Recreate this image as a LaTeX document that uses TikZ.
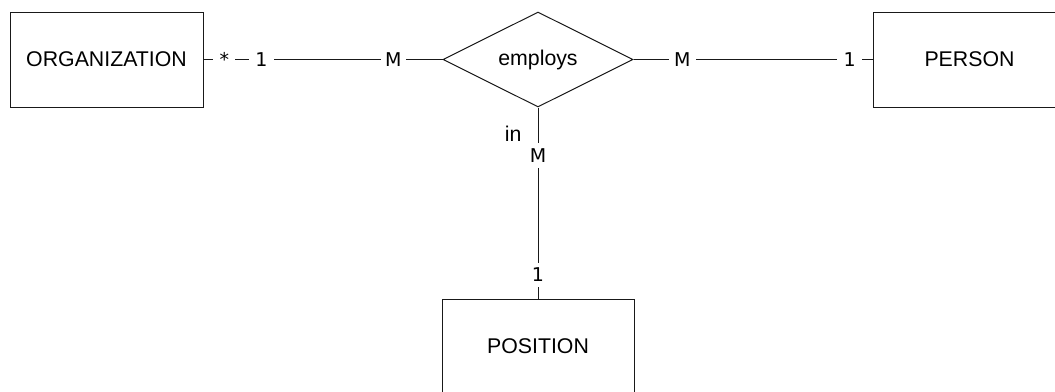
\documentclass[tikz,border=0pt]{standalone}
\usepackage{fontspec}
\setmainfont{Liberation Sans}
\newfontfamily\cardfont{DejaVu Sans}
\usetikzlibrary{shapes.geometric}

\tikzset{
  entity/.style={draw=black!90, line width=1pt, inner sep=0pt,
    minimum width=193pt, minimum height=95pt,
    font=\fontsize{21.3}{25}\selectfont},
  relation/.style={diamond, aspect=2, draw=black!90, line width=1pt, inner sep=0pt,
    minimum width=190pt, minimum height=95pt,
    font=\fontsize{21.3}{25}\selectfont},
  link/.style={draw=black!90, line width=1pt},
  card/.style={fill=white, inner sep=0pt, minimum width=25pt, minimum height=25pt,
    font=\cardfont\fontsize{19}{22}\selectfont},
  role/.style={inner sep=0pt, font=\fontsize{21.3}{25}\selectfont}
}

\begin{document}
\begin{tikzpicture}[x=1pt, y=-1pt]
  \useasboundingbox (0,0) rectangle (1055,391);

  % entities and the relationship
  \node[entity]   (org) at (106.5, 59.5) {ORGANIZATION};
  \node[relation] (emp) at (538, 59.5)   {\raisebox{-2pt}{employs}};
  \node[entity]   (per) at (969.5, 59.5) {PERSON};
  \node[entity, minimum width=192pt] (pos) at (538, 346.5) {POSITION};

  % organization -- employs
  \draw[link] (org.east) -- (emp.west)
    node[card, pos=0.0875, minimum width=22pt] {\raisebox{-0.22em}{*}}
    node[card, pos=0.242] {1}
    node[card, pos=0.794] {M};

  % employs -- person
  \draw[link] (emp.east) -- (per.west)
    node[card, pos=0.204, minimum width=27pt] {M}
    node[card, pos=0.904] {1};

  % employs -- position
  \draw[link] (emp.south) -- (pos.north)
    node[role, pos=0.135, anchor=east, xshift=-16pt] {in}
    node[card, pos=0.253] {M}
    node[card, pos=0.875, minimum height=24pt] {1};
\end{tikzpicture}
\end{document}
